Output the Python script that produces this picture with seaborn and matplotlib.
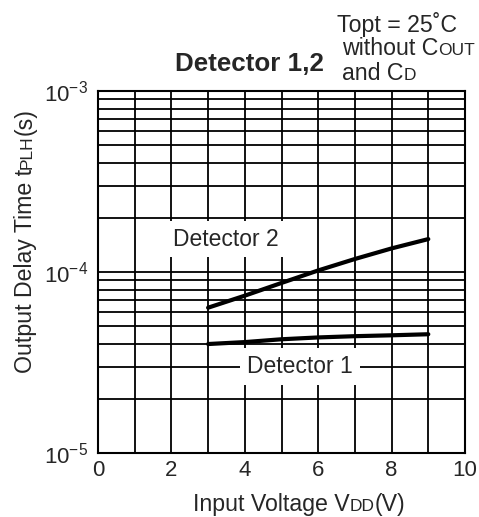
import pandas as pd
import numpy as np
import matplotlib
matplotlib.use("Agg")
import matplotlib.pyplot as plt
import seaborn as sns
from matplotlib.ticker import LogLocator, MultipleLocator, NullFormatter

# values
VDD = [3, 4, 5, 6, 7, 8, 9]
DET1_TPLH = [4.0e-5, 4.1e-5, 4.25e-5, 4.35e-5, 4.42e-5, 4.47e-5, 4.53e-5]
DET2_TPLH = [6.35e-5, 7.4e-5, 8.7e-5, 1.02e-4, 1.18e-4, 1.35e-4, 1.52e-4]

X_TICKS = [0, 2, 4, 6, 8, 10]
Y_TICKS = [1e-5, 1e-4, 1e-3]
Y_TICK_LABELS = [r"$\mathregular{10^{-5}}$", r"$\mathregular{10^{-4}}$", r"$\mathregular{10^{-3}}$"]

W, H = 479, 517
DPI = 100


def draw_parts(fig, x, y, parts, rotation=0, **kw):
    # place text runs one after another, small runs act like small caps
    r = fig.canvas.get_renderer()
    for s, size in parts:
        t = fig.text(x, y, s, fontsize=size, rotation=rotation, rotation_mode="anchor",
                     ha="left", va="baseline", **kw)
        bb = t.get_window_extent(renderer=r)
        if rotation:
            y += bb.height / fig.bbox.height
        else:
            x += bb.width / fig.bbox.width


def main():
    sns.set_style("white")
    plt.rcParams["font.family"] = ["Liberation Sans", "DejaVu Sans"]
    plt.rcParams["mathtext.fontset"] = "custom"
    plt.rcParams["mathtext.rm"] = "Liberation Sans"

    df = pd.DataFrame({
        "vdd": VDD * 2,
        "tplh": DET1_TPLH + DET2_TPLH,
        "det": ["Detector 1"] * len(VDD) + ["Detector 2"] * len(VDD),
    })

    fig = plt.figure(figsize=(W / DPI, H / DPI), dpi=DPI)
    ax = fig.add_axes([98 / W, 1 - 453 / H, (465 - 98) / W, (453 - 91) / H])

    sns.lineplot(data=df, x="vdd", y="tplh", hue="det", palette=["black", "black"],
                 linewidth=3, legend=False, ax=ax, zorder=3)

    ax.set_yscale("log")
    ax.set_xlim(0, 10)
    ax.set_ylim(1e-5, 1e-3)
    ax.set_xticks(X_TICKS)
    ax.set_xticklabels([str(v) for v in X_TICKS])
    ax.xaxis.set_minor_locator(MultipleLocator(1))
    ax.set_yticks(Y_TICKS)
    ax.set_yticklabels(Y_TICK_LABELS)
    ax.yaxis.set_minor_locator(LogLocator(base=10, subs=np.arange(2, 10)))
    ax.yaxis.set_minor_formatter(NullFormatter())
    ax.tick_params(which="both", length=0)
    ax.tick_params(axis="x", labelsize=16, pad=5)
    ax.tick_params(axis="y", labelsize=16, pad=7)
    ax.grid(True, which="both", color="black", linewidth=1.3)
    for sp in ax.spines.values():
        sp.set_color("black")
        sp.set_linewidth(1.5)
    ax.set_xlabel("")
    ax.set_ylabel("")

    box = dict(boxstyle="square,pad=0.3", facecolor="white", edgecolor="none")
    ax.text(3.49, 1.52e-4, "Detector 2", fontsize=16.5, ha="center", va="center", bbox=box, zorder=4)
    ax.text(5.5, 3.0e-5, "Detector 1", fontsize=16.5, ha="center", va="center", bbox=box, zorder=4)

    fig.text(175 / W, 1 - 70.7 / H, "Detector 1,2", fontsize=18.7, fontweight="bold",
             ha="left", va="baseline")
    fig.text(337 / W, 1 - 31.7 / H, "Topt = 25˚C", fontsize=16.7, ha="left", va="baseline")
    draw_parts(fig, 342 / W, 1 - 55 / H, [("without C", 16.7), ("OUT", 12.5)])
    draw_parts(fig, 342 / W, 1 - 80 / H, [("and C", 16.7), ("D", 12.5)])

    draw_parts(fig, 193 / W, 1 - 511 / H, [("Input Voltage V", 16.7), ("DD", 12.5), ("(V)", 16.7)])
    draw_parts(fig, 32 / W, 1 - 373 / H, [("Output Delay Time t", 16.7), ("PLH", 12.5), ("(s)", 16.7)],
               rotation=90)

    fig.savefig("out.png", dpi=DPI)
    plt.close(fig)


if __name__ == "__main__":
    main()
